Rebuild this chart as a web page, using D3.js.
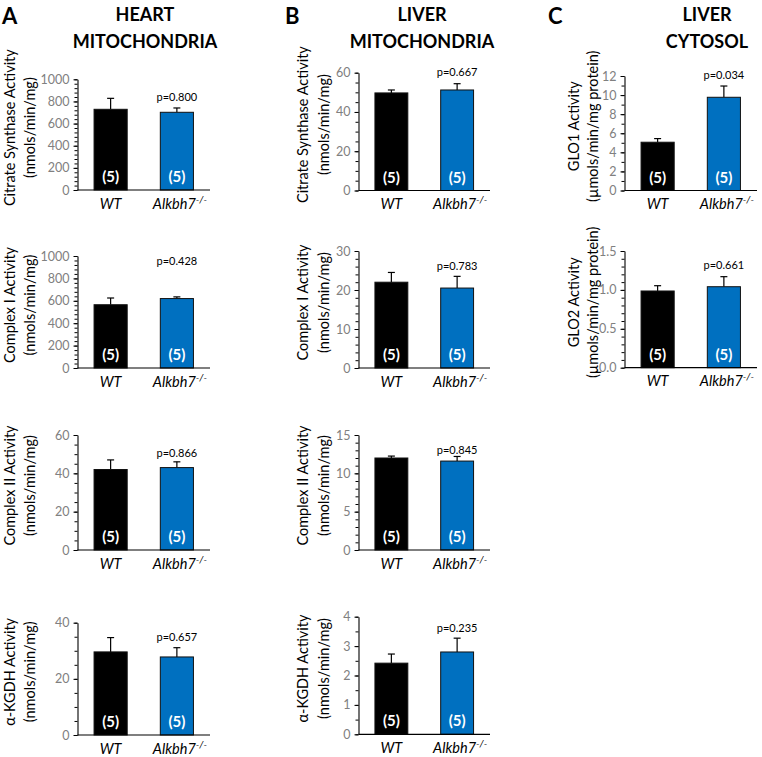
<!DOCTYPE html>
<html><head><meta charset="utf-8">
<script src="https://cdn.jsdelivr.net/npm/d3@7"></script>
<style>body{margin:0;background:#fff}svg{display:block}text{font-family:Lato,"Open Sans",sans-serif}</style>
</head><body><svg id="c" width="762" height="757"></svg>
<script>
// ---------- data ----------
const groups = ["WT", "Alkbh7"];
const nLabels = ["(5)", "(5)"];
const chartNames = ["A-CS","A-CI","A-CII","A-KGDH","B-CS","B-CI","B-CII","B-KGDH","C-GLO1","C-GLO2"];
const yLabel1 = ["Citrate Synthase Activity","Complex I Activity","Complex II Activity","α-KGDH Activity",
                 "Citrate Synthase Activity","Complex I Activity","Complex II Activity","α-KGDH Activity",
                 "GLO1 Activity","GLO2 Activity"];
const yLabel2 = ["(nmols/min/mg)","(nmols/min/mg)","(nmols/min/mg)","(nmols/min/mg)",
                 "(nmols/min/mg)","(nmols/min/mg)","(nmols/min/mg)","(nmols/min/mg)",
                 "(µmols/min/mg protein)","(µmols/min/mg protein)"];
const wtMean = [729, 565, 42, 29.6, 49.7, 22, 12.0, 2.42, 5.06, 0.986];
const wtErr  = [99, 60, 5, 5.1, 1.5, 2.5, 0.25, 0.31, 0.38, 0.068];
const koMean = [702, 620, 43, 27.8, 51.2, 20.5, 11.6, 2.8, 9.77, 1.041];
const koErr  = [39, 15, 3, 3.3, 3.2, 3, 0.6, 0.47, 1.18, 0.129];
const pValues = ["p=0.800","p=0.428","p=0.866","p=0.657","p=0.667","p=0.783","p=0.845","p=0.235","p=0.034","p=0.661"];
const yMax   = [1000, 1000, 60, 40, 60, 30, 15, 4, 12, 1.5];
const majorStep = [200, 200, 20, 20, 20, 10, 5, 1, 2, 0.5];
const minorStep = [40, 40, 5, 5, 5, 2, 1, 0.5, 1, 0.1];
const tickLabels = [
  ["0","200","400","600","800","1000"],["0","200","400","600","800","1000"],
  ["0","20","40","60"],["0","20","40"],["0","20","40","60"],["0","10","20","30"],
  ["0","5","10","15"],["0","1","2","3","4"],["0","2","4","6","8","10","12"],["0.0","0.5","1.0","1.5"]];
const panelLetters = ["A","B","C"];
const panelTitles = [["HEART","MITOCHONDRIA"],["LIVER","MITOCHONDRIA"],["LIVER","CYTOSOL"]];

// ---------- layout ----------
const layout = [
  {ax:77.5,  top:79.3, bot:190,   end:210, pY:101},
  {ax:77.5,  top:256,  bot:368,   end:210, pY:265},
  {ax:77.5,  top:435,  bot:550,   end:210, pY:457},
  {ax:77.5,  top:622.7,bot:735,   end:210, pY:641},
  {ax:358.5, top:72.7, bot:190.5, end:490, pY:76},
  {ax:358.5, top:251,  bot:368,   end:490, pY:270},
  {ax:358.5, top:435,  bot:550,   end:490, pY:454},
  {ax:358.5, top:616.7,bot:734.3, end:490, pY:632},
  {ax:624.5, top:76,   bot:190.5, end:757, pY:79},
  {ax:624.5, top:251,  bot:367.7, end:757, pY:269}
];
const lblX = [[15,35],[15,35],[15,35],[15,35],[308,329],[308,329],[308,329],[308,329],[579,598],[579,598]];
const headers = [{lx:2, cx:145},{lx:285, cx:422},{lx:548, cx:707}];

const svg = d3.select("#c");
const colors = ["#000000", "#0070C0"];

headers.forEach((h,i)=>{
  svg.append("text").attr("x",h.lx).attr("y",24).attr("font-size",22).attr("font-weight",700)
    .text(panelLetters[i]);
  panelTitles[i].forEach((t,j)=>{
    svg.append("text").attr("x",h.cx).attr("y",21+j*27).attr("text-anchor","middle")
      .attr("font-size",18).attr("font-weight",700).text(t);
  });
});

chartNames.forEach((name,i)=>{
  const L = layout[i];
  const g = svg.append("g");
  const y = d3.scaleLinear().domain([0,yMax[i]]).range([L.bot,L.top]);
  const x = d3.scaleBand().domain(groups).range([L.ax, L.end]).paddingInner(0.5).paddingOuter(0.25);

  const minors = d3.range(0, yMax[i]+minorStep[i]/2, minorStep[i]);
  const majors = d3.range(0, yMax[i]+majorStep[i]/2, majorStep[i]);
  g.append("g").attr("transform",`translate(${L.ax},0)`)
    .call(d3.axisLeft(y).tickValues(minors).tickSize(3).tickFormat(""))
    .call(a=>a.select(".domain").remove())
    .selectAll("line").attr("stroke","#000");
  const yAx = g.append("g").attr("transform",`translate(${L.ax},0)`)
    .call(d3.axisLeft(y).tickValues(majors).tickSize(4).tickSizeOuter(0).tickPadding(4)
      .tickFormat((d,k)=>tickLabels[i][k]));
  yAx.select(".domain").attr("stroke","#000").attr("stroke-width",1.1);
  yAx.selectAll("line").attr("stroke","#000");
  yAx.selectAll("text").attr("fill","#808080").attr("font-size",12.5).attr("font-family","Lato");

  const means = [wtMean[i], koMean[i]], errs = [wtErr[i], koErr[i]];
  groups.forEach((gname,k)=>{
    const bx = x(gname), w = x.bandwidth();
    const cx = bx + w/2;
    g.append("line").attr("x1",cx).attr("x2",cx).attr("y1",y(means[k])).attr("y2",y(means[k]+errs[k]))
      .attr("stroke","#000").attr("stroke-width",1.2);
    g.append("line").attr("x1",cx-3.5).attr("x2",cx+3.5).attr("y1",y(means[k]+errs[k])).attr("y2",y(means[k]+errs[k]))
      .attr("stroke","#000").attr("stroke-width",1.2);
    g.append("rect").attr("x",bx).attr("y",y(means[k])).attr("width",w).attr("height",y(0)-y(means[k]))
      .attr("fill",colors[k]).attr("stroke","#111").attr("stroke-width",1);
    g.append("text").attr("x",cx).attr("y",L.bot-8).attr("text-anchor","middle")
      .attr("fill","#fff").attr("font-weight",700).attr("font-size",15).text(nLabels[k]);
    const t = g.append("text").attr("x",cx+(k?3:0)).attr("y",L.bot+18.5).attr("text-anchor","middle")
      .attr("font-style","italic").attr("font-size",14.5);
    if(k===0) t.text("WT");
    else { t.append("tspan").text(gname); t.append("tspan").attr("dy",-6).attr("font-size",10).text("-/-"); }
  });
  g.append("line").attr("x1",L.ax).attr("x2",L.end).attr("y1",L.bot).attr("y2",L.bot)
    .attr("stroke","#000").attr("stroke-width",1.2);
  g.append("text").attr("x",x("Alkbh7")+x.bandwidth()/2).attr("y",L.pY).attr("text-anchor","middle")
    .attr("font-size",11).text(pValues[i]);
  const my = (L.top+L.bot)/2 - 7;
  [yLabel1[i], yLabel2[i]].forEach((s,j)=>{
    g.append("text").attr("transform",`translate(${lblX[i][j]},${my}) rotate(-90)`)
      .attr("text-anchor","middle").attr("font-size",14.5).text(s);
  });
});
</script></body></html>
